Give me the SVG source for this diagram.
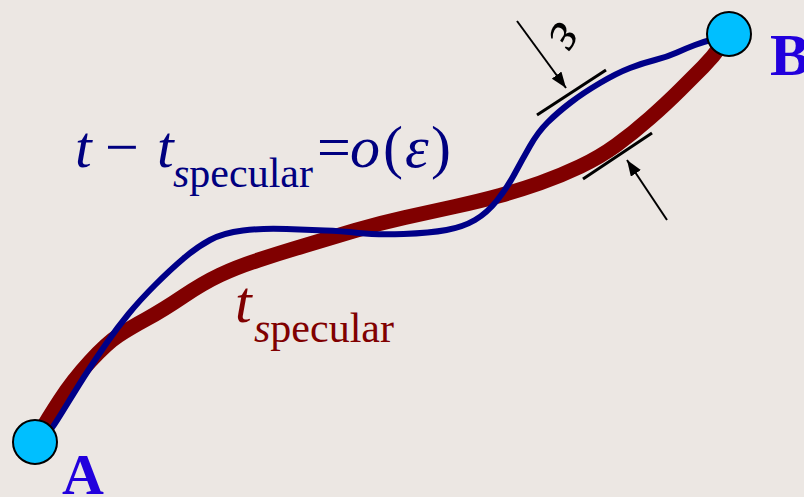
<svg xmlns="http://www.w3.org/2000/svg" width="804" height="497" viewBox="0 0 804 497">
<defs>
<style>
text{font-family:"Liberation Serif","Times New Roman",serif}
.it{font-style:italic}
.navy{fill:#000080}
.maroon{fill:#800000}
.lbl{font-weight:bold;fill:#2200DD}
.node{fill:#00BFFF;stroke:#000;stroke-width:2}
.tick{stroke:#000;stroke-width:3;fill:none}
.arr{stroke:#000;stroke-width:2;fill:none;marker-end:url(#ah)}
</style>
<marker id="ah" viewBox="0 0 16 12" refX="16" refY="6" markerWidth="16" markerHeight="12" markerUnits="userSpaceOnUse" orient="auto">
<path d="M0,0 L16,6 L0,12 z" fill="#000"/>
</marker>
</defs>
<rect x="0" y="0" width="804" height="497" fill="#ECE7E3"/>
<g id="connectors">
<path id="specular-path" d="M36,440 L41.5,430 Q47,420 60,400 Q73,380 90,361.5 Q107,343 118.5,335.5 Q130,328 146.5,319 Q163,310 183,296.5 Q203,283 220,275 Q237,267 258.5,260 Q280,253 305,245.5 Q330,238 355,230.5 Q380,223 405,217.5 Q430,212 455,206.5 Q480,201 500,195.5 Q520,190 540,183 Q560,176 580,166.5 Q600,157 616.5,145 Q633,133 650,118 Q667,103 680,90 Q693,77 703,67 Q713,57 721,45.5 L729,34" fill="none" stroke="#800000" stroke-width="15"/>
<path id="perturbed-path" d="M48,433 L51.5,428.5 Q55,424 67.5,403.5 Q80,383 88.5,370 Q97,357 107,342.5 Q117,328 128.5,314 Q140,300 155,285 Q170,270 183.5,258.5 Q197,247 210,240 Q223,233 243,230.5 Q263,228 286.5,229 Q310,230 325,230.5 Q340,231 358.5,233 Q377,235 403.5,234 Q430,233 446.5,230 Q463,227 475,220 Q487,213 497,200.5 Q507,188 514.5,174 Q522,160 530,146 Q538,132 547.5,122.5 Q557,113 570,103 Q583,93 600,83 Q617,73 630,68 Q643,63 655,60 Q667,57 677,52.5 Q687,48 695,45 Q703,42 710.5,40 L718,38" fill="none" stroke="#000088" stroke-width="6"/>
</g>
<g id="width-marker">
<line class="tick" x1="537" y1="115" x2="606" y2="70"/>
<line class="tick" x1="583" y1="179" x2="652" y2="133"/>
<line class="arr" x1="517" y1="21" x2="566" y2="88"/>
<line class="arr" x1="667" y1="220" x2="627" y2="160"/>
<text class="it" font-family="Liberation Serif, Times New Roman, serif" font-size="56" text-anchor="middle" transform="translate(563,35) rotate(120)" x="0" y="12" fill="#000">ε</text>
</g>
<g id="node-A">
<circle class="node" cx="35" cy="442" r="22"/>
<text class="lbl" font-family="Liberation Serif, Times New Roman, serif" x="62" y="494" font-size="58">A</text>
</g>
<g id="node-B">
<circle class="node" cx="729" cy="34" r="22"/>
<text class="lbl" font-family="Liberation Serif, Times New Roman, serif" x="770" y="75" font-size="60">B</text>
</g>
<g id="formula">
<text class="navy" font-family="Liberation Serif, Times New Roman, serif" font-size="60"><tspan class="it" x="75" y="167">t</tspan><tspan x="105" y="167">−</tspan><tspan class="it" x="157" y="167">t</tspan><tspan class="it" x="173" y="187" font-size="42">s</tspan><tspan font-size="42">pecular</tspan><tspan x="317" y="167">=</tspan><tspan class="it" x="350" y="167">o</tspan><tspan x="383" y="167">(</tspan><tspan class="it" x="405" y="167">ε</tspan><tspan x="431" y="167">)</tspan></text>
</g>
<g id="specular-label">
<text class="maroon" font-family="Liberation Serif, Times New Roman, serif" font-size="60"><tspan class="it" x="235" y="322">t</tspan><tspan class="it" x="254" y="342" font-size="42">s</tspan><tspan font-size="42">pecular</tspan></text>
</g>
</svg>
